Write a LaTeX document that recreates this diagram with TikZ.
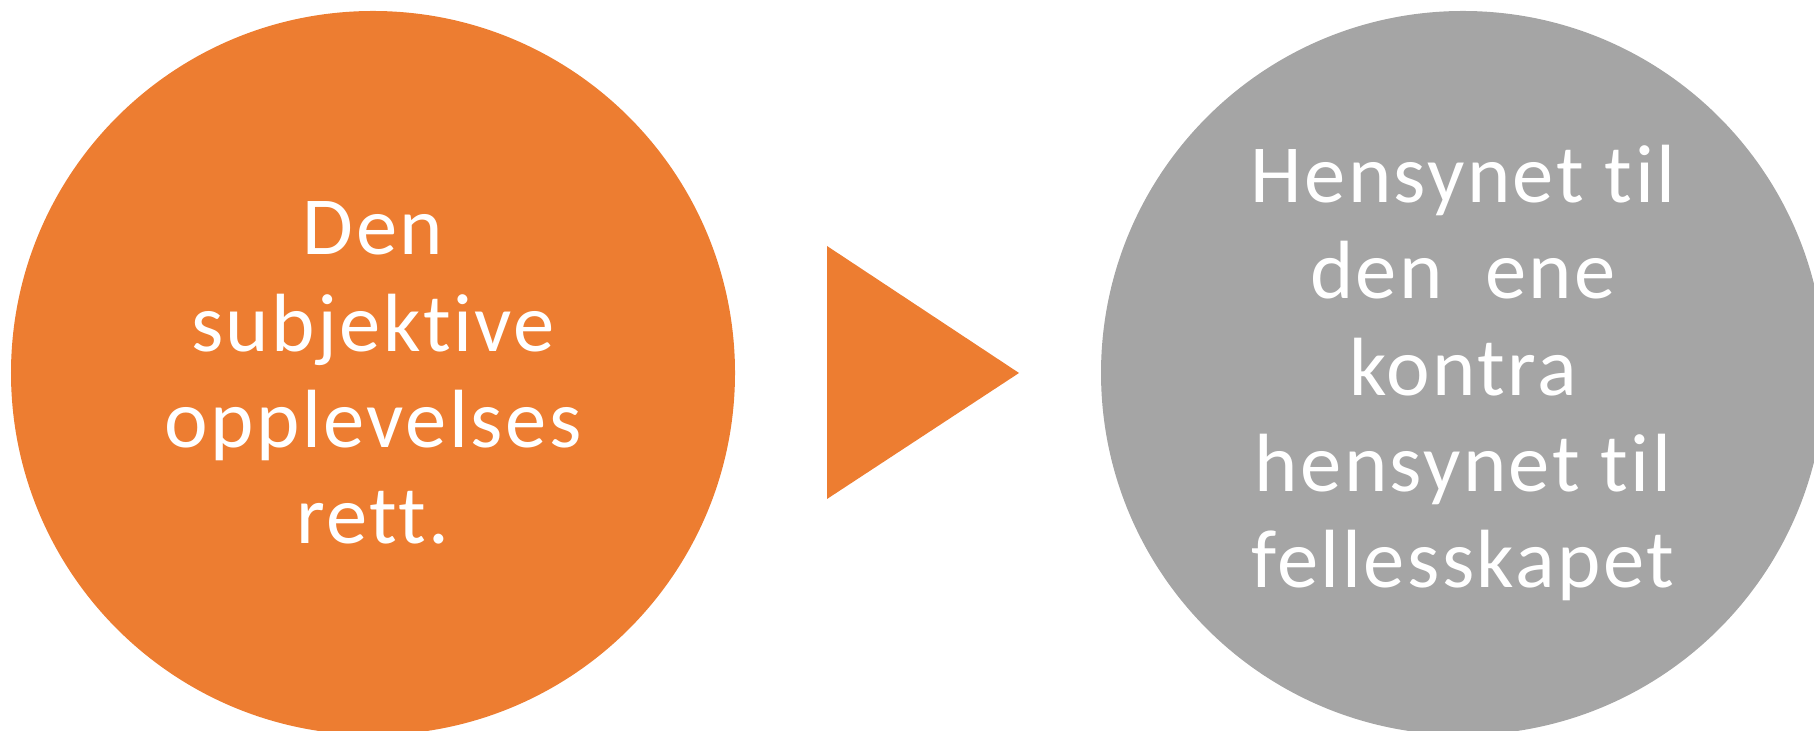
\documentclass[tikz,border=0pt]{standalone}
\usepackage{fontspec}
\usepackage{tikz}
\usetikzlibrary{positioning}
\setmainfont{Carlito}[Ligatures=NoCommon, LetterSpace=3]
\definecolor{rtorange}{RGB}{237,125,49}
\definecolor{rtgrey}{RGB}{165,165,165}
\tikzset{
  rtball/.style={
    circle, draw=none, minimum size=7.24cm, inner sep=0pt,
    align=center, text=white,
    font=\fontsize{23.5}{27.4}\selectfont
  },
  own/.style={rtball, fill=rtorange},
  common/.style={rtball, fill=rtgrey},
  tip/.style={fill=rtorange, draw=none}
}

\begin{document}
\begin{tikzpicture}[x=1cm,y=1cm]
  \useasboundingbox (0,0) rectangle (18.14,7.31);
  \clip (0,0) rectangle (18.14,7.31);
  \node[own] (left) at (3.73,3.58)
    {Den\\subjektive\\opplevelses\\rett.};
  \node[common] (right) at (14.63,3.58)
    {Hensynet til\\den\ \ ene\\kontra\\hensynet til\\fellesskapet};
  % arrow head between the two
  \coordinate (tt) at (8.27,4.85);
  \coordinate (tb) at (8.27,2.32);
  \coordinate (tp) at (10.19,3.58);
  \fill[tip] (tt) -- (tp) -- (tb) -- cycle;
\end{tikzpicture}
\end{document}
